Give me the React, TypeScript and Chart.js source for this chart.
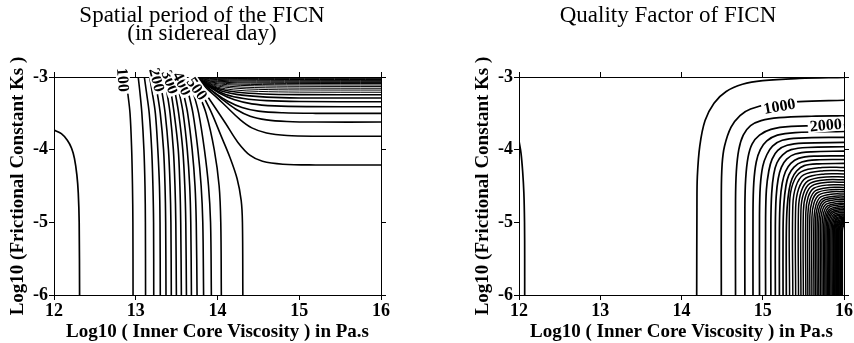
import { useEffect, useRef } from 'react';
import { Chart, registerables } from 'chart.js';

Chart.register(...registerables);

// ---------- text ----------
const periodTitle = ['Spatial period of the FICN', '(in sidereal day)'];
const qualityTitle = ['Quality Factor of FICN'];
const xAxisTitle = 'Log10 ( Inner Core Viscosity ) in Pa.s';
const yAxisTitle = 'Log10 (Frictional Constant Ks )';

// ---------- ticks ----------
const xTicks = [12, 13, 14, 15, 16];
const yTicks = [-6, -5, -4, -3];

// ---------- left panel: spatial period contours (x = log10 viscosity, y = log10 Ks), flat x,y pairs ----------
const periodEdge = [
  [12, -3.73, 12.09, -3.78, 12.163, -3.87, 12.215, -3.98, 12.25, -4.12, 12.28, -4.35, 12.297, -4.6, 12.308, -5.0, 12.313, -6],
];
const periodVertical = [
  [12.967, -6, 12.965, -5, 12.96, -4.5, 12.95, -4, 12.93, -3.5, 12.9, -3.2, 12.88, -3.0],
  [13.12, -6, 13.118, -5, 13.113, -4.5, 13.1, -4, 13.075, -3.5, 13.05, -3.2, 13.03, -3.0],
  [13.22, -6, 13.218, -5, 13.21, -4.5, 13.195, -4, 13.165, -3.5, 13.13, -3.2, 13.105, -3.0],
  [13.3, -6, 13.297, -5, 13.29, -4.5, 13.27, -4, 13.24, -3.5, 13.2, -3.2, 13.17, -3.0],
  [13.37, -6, 13.366, -5, 13.358, -4.5, 13.34, -4, 13.3, -3.5, 13.26, -3.2, 13.23, -3.0],
  [13.435, -6, 13.43, -5, 13.42, -4.5, 13.4, -4, 13.36, -3.5, 13.32, -3.2, 13.29, -3.0],
  [13.497, -6, 13.49, -5, 13.48, -4.5, 13.46, -4, 13.42, -3.5, 13.38, -3.2, 13.35, -3.0],
  [13.558, -6, 13.55, -5, 13.54, -4.5, 13.52, -4, 13.47, -3.5, 13.43, -3.2, 13.4, -3.0],
  [13.62, -6, 13.612, -5, 13.6, -4.5, 13.575, -4, 13.525, -3.5, 13.48, -3.2, 13.45, -3.0],
  [13.681, -6, 13.673, -5, 13.66, -4.5, 13.63, -4, 13.58, -3.5, 13.53, -3.2, 13.5, -3.0],
  [13.75, -6, 13.74, -5, 13.725, -4.5, 13.69, -4, 13.635, -3.5, 13.58, -3.2, 13.55, -3.0],
  [13.83, -6, 13.82, -5, 13.8, -4.5, 13.76, -4, 13.7, -3.5, 13.64, -3.2, 13.6, -3.0],
  [13.925, -6, 13.915, -5, 13.89, -4.5, 13.84, -4, 13.77, -3.5, 13.7, -3.2, 13.65, -3.0],
  [14.047, -6, 14.04, -5, 14.02, -4.5, 13.96, -4, 13.86, -3.5, 13.76, -3.2, 13.69, -3.0],
  [14.31, -6, 14.305, -5, 14.29, -4.7, 14.24, -4.4, 14.15, -4.1, 14.04, -3.8, 13.93, -3.5, 13.82, -3.25, 13.73, -3.05],
];
const periodHorizontal = [
  [16, -4.21, 15.2, -4.21, 14.8, -4.2, 14.55, -4.16, 14.4, -4.08, 14.25, -3.9, 14.1, -3.64, 13.97, -3.42, 13.85, -3.22, 13.76, -3.07],
  [16, -3.815, 15.2, -3.815, 14.85, -3.805, 14.6, -3.77, 14.42, -3.7, 14.27, -3.58, 14.12, -3.42, 13.98, -3.27, 13.85, -3.14, 13.77, -3.05],
  [16, -3.62, 15.2, -3.62, 14.85, -3.612, 14.6, -3.59, 14.4, -3.54, 14.22, -3.44, 14.05, -3.3, 13.9, -3.16, 13.78, -3.05],
  [16, -3.5, 15.2, -3.5, 14.8, -3.493, 14.5, -3.47, 14.3, -3.42, 14.12, -3.33, 13.97, -3.22, 13.83, -3.1, 13.76, -3.03],
  [16, -3.41, 15.1, -3.408, 14.7, -3.398, 14.42, -3.37, 14.2, -3.31, 14.02, -3.22, 13.88, -3.12, 13.77, -3.04],
  [16, -3.34, 15.0, -3.338, 14.6, -3.325, 14.32, -3.295, 14.1, -3.24, 13.93, -3.15, 13.8, -3.06, 13.75, -3.02],
  [16, -3.29, 15.0, -3.288, 14.6, -3.277, 14.3, -3.25, 14.07, -3.2, 13.9, -3.12, 13.77, -3.04],
  [16, -3.245, 15.0, -3.243, 14.55, -3.233, 14.25, -3.21, 14.03, -3.165, 13.87, -3.1, 13.76, -3.03],
];
const periodHorizontalDense = [
  [16, -3.21, 15.0, -3.208, 14.5, -3.198, 14.2, -3.178, 14.0, -3.14, 13.85, -3.08, 13.75, -3.02],
  [16, -3.18, 15.0, -3.178, 14.5, -3.17, 14.2, -3.152, 13.98, -3.12, 13.84, -3.07, 13.75, -3.02],
  [16, -3.155, 15.0, -3.153, 14.45, -3.145, 14.15, -3.128, 13.95, -3.1, 13.82, -3.06, 13.74, -3.015],
  [16, -3.13, 15.0, -3.128, 14.45, -3.121, 14.12, -3.106, 13.93, -3.082, 13.8, -3.05, 13.74, -3.01],
  [16, -3.11, 15.0, -3.108, 14.4, -3.102, 14.1, -3.089, 13.9, -3.068, 13.78, -3.04, 13.73, -3.01],
  [16, -3.09, 15.0, -3.089, 14.4, -3.084, 14.08, -3.073, 13.88, -3.055, 13.77, -3.03, 13.73, -3.005],
  [16, -3.075, 15.0, -3.074, 14.3, -3.069, 14.0, -3.058, 13.83, -3.04, 13.73, -3.005],
  [16, -3.06, 15.0, -3.059, 14.3, -3.055, 14.0, -3.046, 13.82, -3.03, 13.73, -3.0],
  [16, -3.047, 15.0, -3.046, 14.3, -3.043, 14.0, -3.035, 13.8, -3.02, 13.73, -3.0],
  [16, -3.035, 14.5, -3.033, 14.0, -3.026, 13.8, -3.013, 13.73, -3.0],
  [16, -3.024, 14.5, -3.022, 14.0, -3.017, 13.8, -3.008, 13.74, -3.0],
  [16, -3.014, 14.5, -3.013, 14.0, -3.01, 13.76, -3.0],
];
const periodLabelText = ['100', '200', '300', '400', '500'];
const periodLabelX = [12.845, 13.26, 13.42, 13.567, 13.75];
const periodLabelY = [-3.04, -3.04, -3.07, -3.09, -3.16];
const periodLabelAngle = [86, 76, 70, 64, 55];

// ---------- right panel: quality factor contours ----------
const qualityEdge = [
  [12, -3.88, 12.025, -4.05, 12.045, -4.3, 12.06, -4.6, 12.068, -5.0, 12.07, -5.5, 12.07, -6],
];
const qualityMain = [
  [14.187, -6, 14.19, -4.8, 14.195, -4.37, 14.225, -3.95, 14.29, -3.6, 14.4, -3.36, 14.55, -3.2, 14.75, -3.1, 15.0, -3.05, 15.45, -3.02, 16, -3.005],
  [14.49, -6, 14.49, -4.6, 14.5, -4.2, 14.53, -3.95, 14.61, -3.69, 14.72, -3.53, 14.85, -3.44, 15.1, -3.37, 15.45, -3.34, 16, -3.32],
  [14.665, -6, 14.665, -4.7, 14.675, -4.3, 14.705, -4.0, 14.76, -3.8, 14.85, -3.67, 14.98, -3.6, 15.2, -3.56, 15.6, -3.54, 16, -3.535],
  [14.78, -6, 14.78, -4.8, 14.79, -4.4, 14.82, -4.1, 14.87, -3.92, 14.96, -3.8, 15.1, -3.72, 15.35, -3.68, 16, -3.66],
  [14.88, -6, 14.88, -4.85, 14.89, -4.45, 14.92, -4.17, 14.97, -4.0, 15.05, -3.88, 15.18, -3.8, 15.4, -3.765, 16, -3.75],
  [14.96, -6, 14.96, -4.9, 14.97, -4.5, 15.0, -4.23, 15.05, -4.07, 15.12, -3.95, 15.24, -3.87, 15.45, -3.84, 16, -3.83],
  [15.035, -6, 15.035, -4.95, 15.045, -4.55, 15.075, -4.29, 15.115, -4.13, 15.185, -4.01, 15.3, -3.94, 15.5, -3.91, 16, -3.9],
  [15.1, -6, 15.1, -5.0, 15.11, -4.6, 15.135, -4.34, 15.175, -4.18, 15.245, -4.07, 15.35, -4.0, 15.55, -3.97, 16, -3.96],
  [15.155, -6, 15.155, -5.05, 15.165, -4.65, 15.19, -4.4, 15.23, -4.24, 15.295, -4.13, 15.4, -4.06, 15.6, -4.03, 16, -4.02],
  [15.205, -6, 15.205, -5.1, 15.215, -4.7, 15.24, -4.46, 15.28, -4.3, 15.345, -4.19, 15.44, -4.12, 15.63, -4.09, 16, -4.085],
  [15.25, -6, 15.25, -5.1, 15.26, -4.75, 15.285, -4.5, 15.32, -4.35, 15.385, -4.24, 15.48, -4.17, 15.66, -4.14, 16, -4.135],
  [15.29, -6, 15.29, -5.15, 15.3, -4.8, 15.325, -4.55, 15.36, -4.4, 15.42, -4.29, 15.51, -4.22, 15.69, -4.195, 16, -4.19],
];
const qualityDense = [
  [15.33, -6, 15.33, -4.745, 15.37, -4.47, 15.47, -4.305, 15.73, -4.245, 16, -4.245],
  [15.37, -6, 15.37, -4.77, 15.408, -4.506, 15.503, -4.348, 15.75, -4.29, 16, -4.29],
  [15.405, -6, 15.405, -4.795, 15.441, -4.542, 15.531, -4.39, 15.765, -4.335, 16, -4.335],
  [15.44, -6, 15.44, -4.815, 15.474, -4.573, 15.559, -4.428, 15.78, -4.375, 16, -4.375],
  [15.47, -6, 15.47, -4.835, 15.502, -4.604, 15.582, -4.465, 15.79, -4.415, 16, -4.415],
  [15.5, -6, 15.5, -4.85, 15.53, -4.63, 15.605, -4.498, 15.8, -4.45, 16, -4.45],
  [15.53, -6, 15.53, -4.865, 15.558, -4.656, 15.628, -4.531, 15.81, -4.485, 16, -4.485],
  [15.555, -6, 15.555, -4.89, 15.582, -4.687, 15.65, -4.564, 15.825, -4.52, 16, -4.52],
  [15.58, -6, 15.58, -4.91, 15.606, -4.712, 15.671, -4.593, 15.84, -4.55, 16, -4.55],
  [15.605, -6, 15.605, -4.93, 15.63, -4.738, 15.693, -4.622, 15.855, -4.58, 16, -4.58],
  [15.63, -6, 15.63, -4.95, 15.654, -4.763, 15.714, -4.651, 15.87, -4.61, 16, -4.61],
  [15.65, -6, 15.65, -4.97, 15.673, -4.789, 15.73, -4.68, 15.88, -4.64, 16, -4.64],
  [15.67, -6, 15.67, -4.985, 15.692, -4.809, 15.747, -4.703, 15.89, -4.665, 16, -4.665],
  [15.69, -6, 15.69, -5.0, 15.711, -4.83, 15.763, -4.727, 15.9, -4.69, 16, -4.69],
  [15.71, -6, 15.71, -5.015, 15.73, -4.85, 15.78, -4.751, 15.91, -4.715, 16, -4.715],
  [15.73, -6, 15.73, -5.03, 15.749, -4.871, 15.797, -4.775, 15.92, -4.74, 16, -4.74],
  [15.75, -6, 15.75, -5.04, 15.768, -4.886, 15.813, -4.794, 15.93, -4.76, 16, -4.76],
  [15.765, -6, 15.765, -5.055, 15.782, -4.907, 15.825, -4.817, 15.935, -4.785, 16, -4.785],
  [15.78, -6, 15.78, -5.065, 15.796, -4.922, 15.836, -4.836, 15.94, -4.805, 16, -4.805],
  [15.795, -6, 15.795, -5.075, 15.81, -4.938, 15.848, -4.855, 15.945, -4.825, 16, -4.825],
  [15.81, -6, 15.81, -5.085, 15.824, -4.953, 15.859, -4.874, 15.95, -4.845, 16, -4.845],
  [15.825, -6, 15.825, -5.095, 15.838, -4.969, 15.871, -4.893, 15.955, -4.865, 16, -4.865],
  [15.84, -6, 15.84, -5.105, 15.852, -4.984, 15.882, -4.911, 15.96, -4.885, 16, -4.885],
  [15.855, -6, 15.855, -5.11, 15.866, -4.995, 15.893, -4.925, 15.965, -4.9, 16, -4.9],
  [15.87, -6, 15.87, -5.115, 15.88, -5.005, 15.905, -4.939, 15.97, -4.915, 16, -4.915],
  [15.88, -6, 15.88, -5.12, 15.889, -5.016, 15.912, -4.953, 15.97, -4.93, 16, -4.93],
  [15.89, -6, 15.89, -5.125, 15.898, -5.026, 15.918, -4.967, 15.97, -4.945, 16, -4.945],
  [15.9, -6, 15.9, -5.13, 15.908, -5.037, 15.928, -4.98, 15.98, -4.96, 16, -4.96],
  [15.91, -6, 15.91, -5.135, 15.917, -5.047, 15.935, -4.994, 15.98, -4.975, 16, -4.975],
  [15.92, -6, 15.92, -5.14, 15.926, -5.058, 15.941, -5.008, 15.98, -4.99, 16, -4.99],
  [15.93, -6, 15.93, -5.14, 15.935, -5.063, 15.948, -5.017, 15.98, -5.0, 16, -5.0],
  [15.94, -6, 15.94, -5.14, 15.945, -5.07, 15.958, -5.026, 15.99, -5.01, 16, -5.01],
  [15.95, -6, 15.95, -5.14, 15.954, -5.074, 15.964, -5.034, 15.99, -5.02, 16, -5.02],
  [15.96, -6, 15.96, -5.14, 15.963, -5.08, 15.97, -5.043, 15.99, -5.03, 16, -5.03],
  [15.97, -6, 15.97, -5.14, 15.973, -5.085, 15.98, -5.052, 16, -5.04],
  [15.98, -6, 15.98, -5.14, 15.983, -5.09, 15.99, -5.06, 16, -5.05],
];
const qualityLabelText = ['1000', '2000'];
const qualityLabelX = [15.206, 15.775];
const qualityLabelY = [-3.4, -3.66];
const qualityLabelAngle = [-10, -5];

// ---------- helpers ----------
const SERIF = '"Liberation Serif", "Times New Roman", serif';

const toPts = (flat: number[]) => {
  const pts: { x: number; y: number }[] = [];
  for (let i = 0; i < flat.length; i += 2) pts.push({ x: flat[i], y: flat[i + 1] });
  return pts;
};

const lineSet = (flat: number[], width: number) => ({
  data: toPts(flat),
  borderColor: '#000',
  borderWidth: width,
  pointRadius: 0,
  tension: 0.35,
  fill: false,
  xAxisID: 'x',
  yAxisID: 'y',
});

const titlePlugin = {
  id: 'panelTitle',
  afterDraw(chart: any, _args: any, opts: any) {
    const ctx = chart.ctx;
    ctx.save();
    ctx.font = `23px ${SERIF}`;
    ctx.fillStyle = '#000';
    ctx.textAlign = 'center';
    ctx.textBaseline = 'middle';
    (opts.lines || []).forEach((t: string, i: number) => ctx.fillText(t, opts.cx, opts.cy + i * 18));
    ctx.restore();
  },
};

const contourLabelPlugin = {
  id: 'contourLabels',
  afterDraw(chart: any, _args: any, opts: any) {
    const ctx = chart.ctx;
    const xs = chart.scales.x;
    const ys = chart.scales.y;
    ctx.save();
    ctx.font = `bold 16px ${SERIF}`;
    ctx.textAlign = 'center';
    ctx.textBaseline = 'middle';
    (opts.text || []).forEach((t: string, i: number) => {
      const px = xs.getPixelForValue(opts.x[i]);
      const py = ys.getPixelForValue(opts.y[i]);
      const w = ctx.measureText(t).width;
      ctx.save();
      ctx.translate(px, py);
      ctx.rotate((opts.angle[i] * Math.PI) / 180);
      ctx.fillStyle = '#fff';
      ctx.fillRect(-w / 2 - 2, -7, w + 4, 14);
      ctx.fillStyle = '#000';
      ctx.fillText(t, 0, 1);
      ctx.restore();
    });
    ctx.restore();
  },
};

function makeScales() {
  const tickFont = { family: SERIF, weight: 'bold' as const, size: 18 };
  const titleFont = { family: SERIF, weight: 'bold' as const, size: 19 };
  const grid = { display: true, drawOnChartArea: false, drawTicks: true, tickLength: 5, color: '#000', lineWidth: 1 };
  const border = { display: true, color: '#000', width: 1 };
  const setX = (s: any) => { s.ticks = xTicks.map((v) => ({ value: v })); };
  const setY = (s: any) => { s.ticks = yTicks.map((v) => ({ value: v })); };
  return {
    x: {
      type: 'linear', position: 'bottom', min: 12, max: 16,
      afterBuildTicks: setX,
      ticks: { font: tickFont, color: '#000', padding: 1, maxRotation: 0, autoSkip: false },
      grid, border,
      title: { display: true, text: xAxisTitle, font: titleFont, color: '#000', padding: { top: 0, bottom: 0 } },
      afterFit: (s: any) => { s.height = 48; },
    },
    x2: {
      type: 'linear', position: 'top', min: 12, max: 16,
      afterBuildTicks: setX,
      ticks: { display: false },
      grid, border,
      afterFit: (s: any) => { s.height = 5; },
    },
    y: {
      type: 'linear', position: 'left', min: -6, max: -3,
      afterBuildTicks: setY,
      ticks: { font: tickFont, color: '#000', padding: 1 },
      grid, border,
      title: { display: true, text: yAxisTitle, font: titleFont, color: '#000', padding: { top: 7, bottom: 0 } },
      afterFit: (s: any) => { s.width = 54; },
    },
    y2: {
      type: 'linear', position: 'right', min: -6, max: -3,
      afterBuildTicks: setY,
      ticks: { display: false },
      grid, border,
      afterFit: (s: any) => { s.width = 6; },
    },
  };
}

function makeChart(canvas: HTMLCanvasElement, datasets: any[], pad: any, title: any, labels: any) {
  return new Chart(canvas, {
    type: 'line',
    data: { datasets },
    options: {
      responsive: false,
      maintainAspectRatio: false,
      animation: false,
      devicePixelRatio: 1,
      layout: { padding: pad },
      scales: makeScales() as any,
      plugins: {
        legend: { display: false },
        tooltip: { enabled: false },
        panelTitle: title,
        contourLabels: labels,
      } as any,
    },
    plugins: [titlePlugin, contourLabelPlugin],
  });
}

export default function App() {
  const leftRef = useRef<HTMLCanvasElement>(null);
  const rightRef = useRef<HTMLCanvasElement>(null);

  useEffect(() => {
    const leftSets = [
      ...periodEdge.map((c) => lineSet(c, 1.7)),
      ...periodVertical.map((c) => lineSet(c, 1.6)),
      ...periodHorizontal.map((c) => lineSet(c, 1.6)),
      ...periodHorizontalDense.map((c) => lineSet(c, 1.0)),
    ];
    const rightSets = [
      ...qualityEdge.map((c) => lineSet(c, 1.7)),
      ...qualityMain.map((c) => lineSet(c, 1.7)),
      ...qualityDense.map((c) => lineSet(c, 1.5)),
    ];
    const left = makeChart(
      leftRef.current!,
      leftSets,
      { left: 0, right: 40, top: 72, bottom: 0 },
      { lines: periodTitle, cx: 202, cy: 16 },
      { text: periodLabelText, x: periodLabelX, y: periodLabelY, angle: periodLabelAngle },
    );
    const right = makeChart(
      rightRef.current!,
      rightSets,
      { left: 38, right: 1, top: 72, bottom: 0 },
      { lines: qualityTitle, cx: 241, cy: 16 },
      { text: qualityLabelText, x: qualityLabelX, y: qualityLabelY, angle: qualityLabelAngle },
    );
    return () => {
      left.destroy();
      right.destroy();
    };
  }, []);

  return (
    <div style={{ position: 'absolute', left: 0, top: 0, width: 854, height: 343, background: '#fff' }}>
      <canvas ref={leftRef} width={427} height={343} style={{ position: 'absolute', left: 0, top: 0 }} />
      <canvas ref={rightRef} width={427} height={343} style={{ position: 'absolute', left: 427, top: 0 }} />
    </div>
  );
}
